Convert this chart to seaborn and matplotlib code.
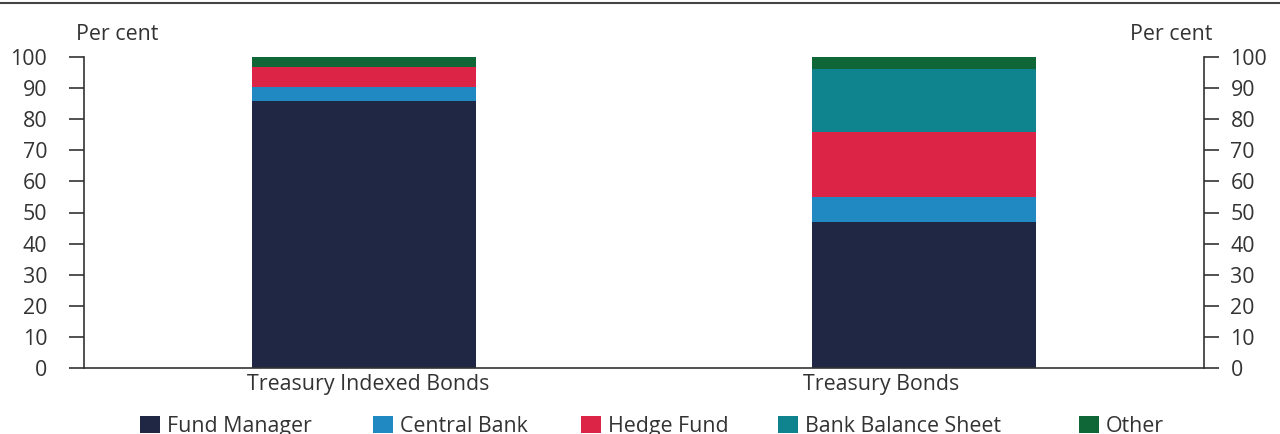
import matplotlib
matplotlib.use("Agg")
import matplotlib.pyplot as plt
import matplotlib.transforms as mtransforms
import seaborn as sns
import numpy as np
import pandas as pd
from matplotlib.patches import Patch
from matplotlib.lines import Line2D

categories = ["Treasury Indexed Bonds", "Treasury Bonds"]
series_names = ["Fund Manager", "Central Bank", "Hedge Fund", "Bank Balance Sheet", "Other"]
fund_manager = [86.0, 47.0]
central_bank = [4.3, 8.0]
hedge_fund = [6.4, 21.0]
bank_balance_sheet = [0.0, 20.0]
other = [3.3, 4.0]
yticks = [0, 10, 20, 30, 40, 50, 60, 70, 80, 90, 100]

colors = ["#1f2744", "#2089c2", "#dc2446", "#10848e", "#0f6636"]

sns.set_style("white")
plt.rcParams["font.family"] = ["Open Sans", "DejaVu Sans"]
text_color = "#333333"
FS = 15.4

fig = plt.figure(figsize=(12.8, 4.34), dpi=100)
ax = fig.add_axes([84 / 1280, 1 - 368 / 434, 1120 / 1280, 311 / 434])

vals = [fund_manager, central_bank, hedge_fund, bank_balance_sheet, other]
cum = np.cumsum(np.array(vals), axis=0)
for i in range(len(series_names) - 1, -1, -1):
    df = pd.DataFrame({"cat": categories, "val": cum[i]})
    sns.barplot(data=df, x="cat", y="val", color=colors[i], width=0.4,
                saturation=1, ax=ax, linewidth=0, order=categories)

ax.set_xlim(-0.5, 1.5)
ax.set_ylim(0, 100)
ax.set_yticks(yticks)
ax.set_xlabel("")
ax.set_ylabel("")
for s in ["top", "right"]:
    ax.spines[s].set_visible(False)
for s in ["left", "bottom"]:
    ax.spines[s].set_color(text_color)
    ax.spines[s].set_linewidth(1.2)
ax.tick_params(axis="y", length=11, width=1.2, color=text_color, labelsize=FS,
               labelcolor=text_color, pad=15.5, direction="out")
ax.tick_params(axis="x", length=0, labelsize=FS, labelcolor=text_color, pad=4.5)

# horizontal offsets of the category labels (pixels)
label_offsets = [4, -43]
for lab, off in zip(ax.get_xticklabels(), label_offsets):
    lab.set_transform(lab.get_transform() +
                      mtransforms.ScaledTranslation(off / 100, 0, fig.dpi_scale_trans))

ax2 = ax.twinx()
ax2.set_ylim(0, 100)
ax2.set_yticks(yticks)
for s in ["top", "left", "bottom"]:
    ax2.spines[s].set_visible(False)
ax2.spines["right"].set_color(text_color)
ax2.spines["right"].set_linewidth(1.2)
ax2.tick_params(axis="y", length=11, width=1.2, color=text_color, labelsize=FS,
                labelcolor=text_color, pad=8, direction="out")

fig.text(76 / 1280, 1 - 34.5 / 434, "Per cent", fontsize=FS, color=text_color,
         ha="left", va="center")
fig.text(1212 / 1280, 1 - 34.5 / 434, "Per cent", fontsize=FS, color=text_color,
         ha="right", va="center")

fig.add_artist(Line2D([0, 1], [1 - 3 / 434, 1 - 3 / 434], color="#444444",
                      linewidth=1.5, transform=fig.transFigure))

handle_x = [140, 373, 581, 778, 1079]
for name, c, hx in zip(series_names, colors, handle_x):
    fig.legend([Patch(facecolor=c, edgecolor="none")], [name], loc="center left",
               bbox_to_anchor=(hx / 1280, 7.5 / 434), frameon=False,
               fontsize=FS, labelcolor=text_color, handlelength=0.93,
               handleheight=0.85, handletextpad=0.33, borderpad=0,
               borderaxespad=0)

fig.savefig("out.png", dpi=100)
